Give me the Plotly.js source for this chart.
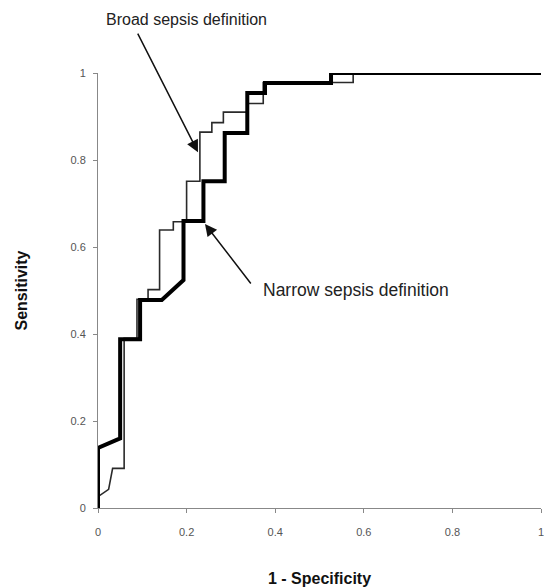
<!DOCTYPE html>
<html>
<head>
<meta charset="utf-8">
<script src="https://cdn.plot.ly/plotly-3.0.1.min.js"></script>
<style>html,body{margin:0;padding:0;background:#fff;}#chart{width:544px;height:587px;}</style>
</head>
<body>
<div id="chart"></div>
<script>
// Broad sepsis definition (thin line): 1 - specificity, sensitivity
const broadX = [0, 0, 0.024, 0.033, 0.059, 0.059, 0.088, 0.088, 0.113, 0.113, 0.139, 0.139, 0.17, 0.17, 0.2, 0.2, 0.23, 0.23, 0.257, 0.257, 0.283, 0.283, 0.339, 0.339, 0.373, 0.373, 0.576, 0.576, 1];
const broadY = [0, 0.026, 0.043, 0.091, 0.091, 0.39, 0.39, 0.48, 0.48, 0.502, 0.502, 0.639, 0.639, 0.658, 0.658, 0.751, 0.751, 0.864, 0.864, 0.886, 0.886, 0.91, 0.91, 0.93, 0.93, 0.978, 0.978, 1, 1];
// Narrow sepsis definition (thick line)
const narrowX = [0, 0, 0.05, 0.05, 0.095, 0.095, 0.144, 0.193, 0.193, 0.238, 0.238, 0.286, 0.286, 0.337, 0.337, 0.377, 0.377, 0.526, 0.526, 1];
const narrowY = [0, 0.138, 0.16, 0.388, 0.388, 0.478, 0.478, 0.524, 0.66, 0.66, 0.751, 0.751, 0.862, 0.862, 0.954, 0.954, 0.977, 0.977, 1, 1];
const tickVals = [0, 0.2, 0.4, 0.6, 0.8, 1];
const tickText = ['0', '0.2', '0.4', '0.6', '0.8', '1'];
const labels = ['Broad sepsis definition', 'Narrow sepsis definition'];

const font = 'Liberation Sans, Arial, Helvetica, sans-serif';

const traces = [
  {x: broadX, y: broadY, mode: 'lines', name: labels[0], line: {color: '#2a2a2a', width: 1.6}, hoverinfo: 'skip'},
  {x: narrowX, y: narrowY, mode: 'lines', name: labels[1], line: {color: '#000', width: 4}, hoverinfo: 'skip'}
];

const layout = {
  width: 544, height: 587,
  margin: {l: 98, r: 3, t: 73, b: 79},
  paper_bgcolor: '#fff', plot_bgcolor: '#fff',
  showlegend: false,
  font: {family: font, color: '#444'},
  xaxis: {
    range: [0, 1], tickvals: tickVals, ticktext: tickText,
    showgrid: false, zeroline: false, showline: true, linecolor: '#888', linewidth: 1,
    ticks: 'outside', ticklen: 4, tickcolor: '#888', ticklabelstandoff: 10,
    ticklabeloverflow: 'allow',
    tickfont: {size: 11, color: '#555', family: font},
    title: {text: '1 - Specificity', font: {size: 16, color: '#111', family: font, weight: 'bold'}, standoff: 36},
    automargin: false
  },
  yaxis: {
    range: [0, 1], tickvals: tickVals, ticktext: tickText,
    showgrid: false, zeroline: false, showline: true, linecolor: '#888', linewidth: 1,
    ticks: 'outside', ticklen: 4, tickcolor: '#888', ticklabelstandoff: 5,
    tickfont: {size: 11, color: '#555', family: font},
    title: {text: 'Sensitivity', font: {size: 16, color: '#111', family: font, weight: 'bold'}, standoff: 38},
    automargin: false
  },
  annotations: [
    {x: 0.199, y: 1.122, xref: 'paper', yref: 'paper', text: labels[0], showarrow: false,
     xanchor: 'center', yanchor: 'middle', font: {size: 16, color: '#222', family: font}},
    {x: 0.368, y: 0.501, xref: 'paper', yref: 'paper', text: labels[1], showarrow: false,
     xanchor: 'left', yanchor: 'middle', font: {size: 17.5, color: '#222', family: font}},
    {x: 0.2257, y: 0.818, xref: 'x', yref: 'y', text: '', showarrow: true,
     ax: -61, ay: -120, arrowhead: 2, arrowsize: 1.6, arrowwidth: 1.5, arrowcolor: '#111', standoff: 0},
    {x: 0.2415, y: 0.653, xref: 'x', yref: 'y', text: '', showarrow: true,
     ax: 47, ay: 61, arrowhead: 2, arrowsize: 1.6, arrowwidth: 1.5, arrowcolor: '#111', standoff: 0}
  ]
};

Plotly.newPlot('chart', traces, layout, {staticPlot: true, displayModeBar: false});
</script>
</body>
</html>
